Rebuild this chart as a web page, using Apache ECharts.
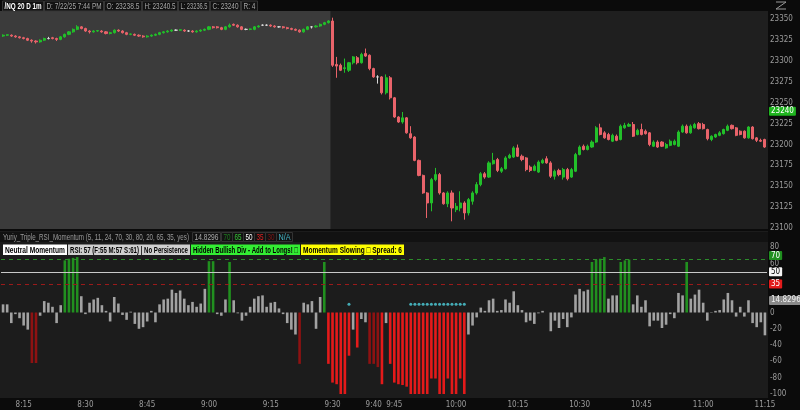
<!DOCTYPE html>
<html><head><meta charset="utf-8">
<script src="https://cdn.jsdelivr.net/npm/echarts@6/dist/echarts.min.js"></script>
<style>html,body{margin:0;padding:0;background:#0b0b0b;}#c{width:800px;height:410px;}</style>
</head><body><div id="c"></div>
<script>
// ---------- DATA ----------
const sessionStart = [8, 10];        // first bar 8:10
const barCount = 186;                // 1-minute bars, 8:10 .. 11:15
const timeLabels = ['8:15','8:30','8:45','9:00','9:15','9:30','9:40','9:45','10:00','10:15','10:30','10:45','11:00','11:15'];
const premarketEnd = '9:29';

const priceOpen = [
23330,23331,23331,23330,23329,23328,23327,23325,23324,23323,
23325,23327,23328,23327,23326,23329,23332,23335,23338,23341,
23339,23336,23335,23336,23336,23335,23333,23334,23337,23336,
23334,23332,23332,23331,23330,23329,23330,23331,23332,23334,
23335,23336,23337,23337,23337,23336,23336,23335,23336,23337,
23338,23341,23341,23340,23338,23341,23344,23343,23341,23338,
23338,23338,23341,23343,23343,23343,23342,23341,23341,23340,
23339,23338,23337,23335,23338,23341,23341,23342,23344,23346,
23348,23296,23295,23291,23289,23298,23304,23298,23309,23307,
23291,23281,23281,23262,23280,23256,23233,23227,23232,23213,
23209,23181,23163,23142,23130,23158,23164,23142,23129,23142,
23122,23124,23130,23118,23132,23142,23152,23165,23161,23177,
23182,23168,23171,23184,23185,23196,23186,23184,23173,23169,
23167,23178,23183,23178,23162,23169,23161,23170,23161,23168,
23188,23198,23194,23197,23203,23220,23214,23212,23204,23210,
23206,23220,23222,23224,23212,23218,23216,23214,23198,23203,
23203,23196,23199,23200,23198,23215,23222,23214,23220,23225,
23224,23218,23206,23209,23211,23213,23217,23223,23220,23216,
23216,23208,23221,23208,23205,23206];
const priceClose = [
23331,23331.5,23330,23329,23328,23327,23325,23324,23323,23325,
23327,23327,23327,23326,23329,23332,23335,23338,23341,23339,
23336,23335,23336,23336.5,23335,23333,23334,23337,23336,23334,
23332,23332.5,23331,23330,23329,23330,23331,23332,23334,23335,
23336,23337,23337,23337.5,23336,23336,23335,23336,23337,23338,
23341,23340,23340,23338,23341,23343,23343,23341,23338,23338,
23338.5,23341,23342,23343,23343,23342,23341,23341,23340,23339,
23338,23337,23335,23338,23341,23341,23342,23344,23346,23348,
23295,23294,23289,23292,23298,23305,23298,23308,23306,23291,
23281,23281,23262,23280,23256,23233,23227,23232,23214,23208,
23181,23163,23142,23130,23158,23164,23142,23129,23142,23124,
23126,23130,23118,23134,23142,23152,23165,23161,23178,23181,
23169,23171,23184,23187,23196,23186,23182,23170,23169,23174,
23179,23181,23178,23162,23168,23164,23170,23159,23170,23188,
23197,23194,23198,23203,23220,23212,23208,23206,23211,23205,
23222,23223,23224,23210,23217,23212,23213,23200,23203,23197,
23198,23200,23204,23204,23215,23222,23214,23222,23224,23219,
23219,23207,23210,23212,23214,23218,23222,23219,23211,23212,
23208,23221,23207,23205,23204,23197];
const priceLow = [
23329,23330,23329,23328,23327,23326,23324,23322,23321,23322,
23324,23326,23326,23324,23325,23328,23331,23334,23337,23338,
23335,23333,23334,23335,23334,23332,23332,23333,23335,23333,
23331,23331,23330,23329,23328,23328,23329,23330,23331,23333,
23334,23335,23336,23336,23335,23335,23334,23334,23335,23336,
23337,23339,23339,23337,23337,23340,23342,23340,23337,23337,
23337,23337,23340,23342,23342,23341,23340,23340,23339,23338,
23337,23336,23334,23334,23337,23339,23340,23341,23343,23345,
23293,23280,23288,23286,23287,23296,23296,23297,23305,23289,
23280,23273,23260,23260,23254,23232,23226,23225,23213,23207,
23180,23162,23141,23112,23120,23156,23140,23128,23125,23108,
23119,23120,23110,23115,23128,23140,23150,23159,23160,23176,
23167,23166,23170,23183,23184,23185,23180,23168,23167,23168,
23166,23177,23177,23160,23158,23162,23158,23157,23160,23167,
23187,23193,23193,23196,23202,23211,23207,23205,23203,23204,
23205,23219,23221,23209,23211,23211,23212,23198,23197,23196,
23197,23195,23198,23199,23197,23214,23213,23213,23219,23218,
23218,23205,23204,23208,23210,23212,23216,23218,23210,23211,
23207,23207,23206,23203,23203,23196];
const priceHigh = [
23332,23332,23332,23331,23330,23329,23328,23326,23325,23326,
23328,23329,23329,23328,23330,23333,23336,23339,23343,23342,
23340,23337,23337,23337,23337,23336,23335,23338,23338,23337,
23335,23333,23333,23332,23331,23331,23332,23333,23335,23336,
23337,23338,23338,23338,23338,23337,23337,23337,23338,23339,
23342,23342,23342,23341,23342,23345,23345,23344,23342,23339,
23339,23342,23343,23344,23344,23344,23343,23342,23342,23341,
23340,23339,23338,23339,23342,23342,23343,23345,23347,23349,
23352,23305,23297,23303,23299,23306,23306,23310,23315,23308,
23292,23283,23282,23284,23282,23257,23234,23239,23233,23222,
23210,23182,23164,23143,23160,23172,23166,23143,23144,23145,
23130,23144,23132,23136,23144,23155,23167,23167,23180,23190,
23184,23173,23186,23189,23198,23200,23188,23185,23175,23176,
23181,23183,23186,23180,23170,23171,23172,23172,23172,23190,
23199,23200,23200,23205,23222,23225,23216,23214,23213,23212,
23224,23226,23226,23227,23219,23225,23218,23215,23205,23205,
23204,23202,23206,23206,23217,23224,23224,23224,23226,23227,
23226,23219,23211,23213,23216,23219,23224,23224,23221,23217,
23217,23222,23222,23209,23207,23207];
const lastPrice = 23240;

const momentum = [
10,10,-13,-2,-7,-16,-21,-62,-62,-4,
14,12,7,-13,9,64,66,67,68,20,
-2,12,16,18,9,2,-11,19,11,-3,
-9,1,-14,-20,-18,-11,2,-12,10,16,
17,28,24,27,17,9,13,7,11,29,
63,63,-2,-4,16,62,15,-1,-10,-4,
7,17,20,21,7,12,13,5,-2,-13,
-21,-27,-63,12,10,14,-20,19,62,-63,
-86,-88,-100,-100,-53,-21,-43,-8,-12,-63,
-63,-67,-88,-13,-63,-86,-88,-89,-91,-100,
-100,-100,-100,-100,-81,-81,-100,-100,-81,-100,
-100,-81,-100,-27,-16,-6,6,2,15,17,
2,3,16,12,26,9,3,-12,-10,-14,
-1,2,0,-23,-10,-19,-8,-18,-6,22,
29,26,28,62,65,66,68,17,21,21,
62,64,65,10,21,7,15,-17,-10,-10,
-19,-15,-2,-7,24,21,62,17,22,28,
12,-10,0.5,2,3,16,24,15,-5,7,
-5,15,-13,-18,-12,-28];
const weakBearTimes = ['8:17','8:18','9:22','9:39','9:40','9:41'];
const signalDotTimes = ['9:34','9:49','9:50','9:51','9:52','9:53','9:54','9:55','9:56','9:57','9:58','9:59','10:00','10:01','10:02'];
const signalDotLevel = 10;
const bullLevel = 50, bearLevel = -40;
const oscTickLabels = [80, 60, 0, -20, -40, -60, -80, -100];
const oscLevels = {upperDash: 65, mid: 50, lowerDash: 35, tag70: 70, current: 14.8296};

const infoTexts = ['/NQ 20 D 1m','D: 7/22/25 7:44 PM','O: 23238.5','H: 23240.5','L: 23236.5','C: 23240','R: 4'];
const studyTitle = 'Yuriy_Triple_RSI_Momentum (5, 11, 24, 70, 30, 80, 20, 65, 35, yes)';
const studyValues = ['14.8296','70','65','50','35','30','N/A'];
const statusTexts = ['Neutral Momentum','RSI: 57 (F:55 M:57 S:61) | No Persistence','Hidden Bullish Div - Add to Longs! \u25A1','Momentum Slowing \u25A1 Spread: 6'];

// ---------- BUILD ----------
const cats = [];
for (let k = 0; k < barCount; k++) {
  const m = sessionStart[0]*60 + sessionStart[1] + k;
  cats.push(Math.floor(m/60) + ':' + String(m%60).padStart(2,'0'));
}
const FONT = "'DejaVu Sans Condensed','Liberation Sans',sans-serif";
const TFONT = "'Liberation Sans','Arial',sans-serif";
const AX = '#9c9c9c';
const chart = echarts.init(document.getElementById('c'), null, {renderer:'canvas'});

const candleData = cats.map((c,i)=>[priceOpen[i], priceClose[i], priceLow[i], priceHigh[i]]);

function tag(value, text, bg, fg, line) {
  return {yAxis: value,
    lineStyle: line || {color:'rgba(0,0,0,0)', width:0},
    label: {show: true, position: 'end', distance: 2, formatter: text, backgroundColor: bg, color: fg,
            padding: [1,2,0,2], fontSize: 8, fontFamily: FONT, borderRadius: 1, opacity: 1}};
}

const option = {
  backgroundColor: '#0b0b0b',
  animation: false,
  grid: [
    {left: 1, width: 766, top: 11, height: 217},
    {left: 1, width: 766, top: 231, height: 163}
  ],
  xAxis: [
    {type:'category', gridIndex:0, data:cats, axisLine:{show:false}, axisTick:{show:false}, axisLabel:{show:false}, splitLine:{show:false}},
    {type:'category', gridIndex:1, data:cats, axisLine:{show:false}, axisTick:{show:false},
     axisLabel:{interval:(idx,val)=>timeLabels.includes(val), color:AX, fontSize:8, margin:7, fontFamily:FONT}, splitLine:{show:false}}
  ],
  yAxis: [
    {type:'value', gridIndex:0, position:'right', min:23100, max:23360, interval:25, axisLine:{show:false}, axisTick:{show:false}, splitLine:{show:false},
     axisLabel:{color:AX, fontSize:8, margin:3, fontFamily:FONT, formatter:v=> (v%25===0 ? String(v) : '')}},
    {type:'value', gridIndex:1, position:'right', min:-100, max:100, interval:20, axisLine:{show:false}, axisTick:{show:false}, splitLine:{show:false},
     axisLabel:{color:AX, fontSize:8, margin:3, fontFamily:FONT, formatter:v=> (oscTickLabels.includes(v) ? String(v) : '')}}
  ],
  series: [
    {type:'candlestick', xAxisIndex:0, yAxisIndex:0, data:candleData, barWidth:2.6,
     itemStyle:{color:'#22c02a', color0:'#e9636a', borderColor:'#22c02a', borderColor0:'#e9636a', borderColorDoji:'#d8d8d8', borderWidth:1},
     markLine:{silent:true, symbol:'none', animation:false, data:[tag(lastPrice, String(lastPrice), '#1fb51f', '#ffffff')]}},
    {type:'bar', xAxisIndex:1, yAxisIndex:1, data:momentum, barWidth:2.6,
     itemStyle:{color:p=>{
        const v = p.value;
        if (v >= bullLevel) return '#21901f';
        if (v <= bearLevel) return weakBearTimes.includes(p.name) ? '#8e1212' : '#e41a1a';
        return '#a2a2a2';
     }},
     markLine:{silent:true, symbol:'none', animation:false, data:[
        {yAxis: oscLevels.upperDash, lineStyle:{color:'#2c8c2c', type:[4,4], width:1}, label:{show:false}},
        tag(oscLevels.tag70, '70', '#1f8f1f', '#ffffff'),
        tag(oscLevels.mid, '50', '#f4f4f4', '#000000', {color:'#c8c8c8', type:'solid', width:1}),
        tag(oscLevels.lowerDash, '35', '#e31b1b', '#ffffff', {color:'#9a1a1a', type:[4,4], width:1}),
        tag(oscLevels.current, String(oscLevels.current), '#8a8a8a', '#f0f0f0')
     ]}},
    {type:'scatter', xAxisIndex:1, yAxisIndex:1, data:signalDotTimes.map(t=>[t, signalDotLevel]), symbolSize:3,
     itemStyle:{color:'#4fd2df'}, z:5}
  ]
};
chart.setOption(option);

// ---------- DECORATION (panels, header boxes) ----------
const bw = chart.convertToPixel({xAxisIndex:0}, cats[1]) - chart.convertToPixel({xAxisIndex:0}, cats[0]);
const shadeEnd = chart.convertToPixel({xAxisIndex:0}, premarketEnd) + bw/2;
const mctx = document.createElement('canvas').getContext('2d');
function fitScale(text, font, target) { mctx.font = font; return Math.min(1.15, target / mctx.measureText(text).width); }

const g = [];
g.push({type:'rect', z:-10, shape:{x:0, y:11, width:768, height:218}, style:{fill:'#1f1f1f'}});
g.push({type:'rect', z:-9, shape:{x:0, y:11, width:shadeEnd, height:218}, style:{fill:'#3b3b3b'}});
g.push({type:'rect', z:-10, shape:{x:0, y:231, width:768, height:167}, style:{fill:'#1c1c1c'}});
g.push({type:'rect', z:-8, shape:{x:0, y:232, width:768, height:10}, style:{fill:'#121212'}});

function fitText(x, y, target, text, color, weight, size) {
  const font = (weight||'normal') + ' ' + (size||8) + 'px ' + TFONT;
  g.push({type:'text', z:51, x:x, y:y, scaleX:fitScale(text, font, target),
     style:{text:text, fill:color, font:font, verticalAlign:'middle', align:'left'}});
}
function txtBox(x, y, w, h, text, fill, stroke, color, weight, size) {
  g.push({type:'rect', z:50, shape:{x:x, y:y, width:w, height:h}, style:{fill:fill, stroke:stroke, lineWidth:stroke?1:0}});
  fitText(x+2, y+h/2+0.5, w-4, text, color, weight, size);
}
// top info strip
const infoX = [2,44,104,142,178,210,241], infoW = [41,59,37,35,31,30,16];
infoTexts.forEach((t,i)=>txtBox(infoX[i]+0.5, 1, infoW[i], 10, t, '#121212', '#363636', i===0?'#ffffff':'#a6a6a6', i===0?'bold':'normal', 9));
// study title row
fitText(3, 237.5, 186, studyTitle, '#9a9a9a', 'normal', 9);
const svX = [192,221,232,243,254,265,276], svW = [28,11,11,11,11,11,16];
const svCol = ['#a8a8a8','#1f7d1f','#36c936','#ffffff','#e02222','#7d1414','#45b6c6'];
studyValues.forEach((t,i)=>txtBox(svX[i]+0.5, 232.5, svW[i], 9, t, '#121212', '#333333', svCol[i], 'normal', 8.5));
// status row
const stX = [3,68,191,301], stW = [64,122,109,103];
const stBg = ['#ffffff','#cfcfcf','#33ee33','#ffff00'];
statusTexts.forEach((t,i)=>txtBox(stX[i], 244.5, stW[i], 10.5, t, stBg[i], null, '#000000', 'bold', 9));
// top right zoom icon
g.push({type:'polyline', z:51, shape:{points:[[776,2],[786,2],[776,9],[786,9]]}, style:{stroke:'#9a9a9a', lineWidth:1, fill:null}});

chart.setOption({graphic: g});
</script>
</body></html>
